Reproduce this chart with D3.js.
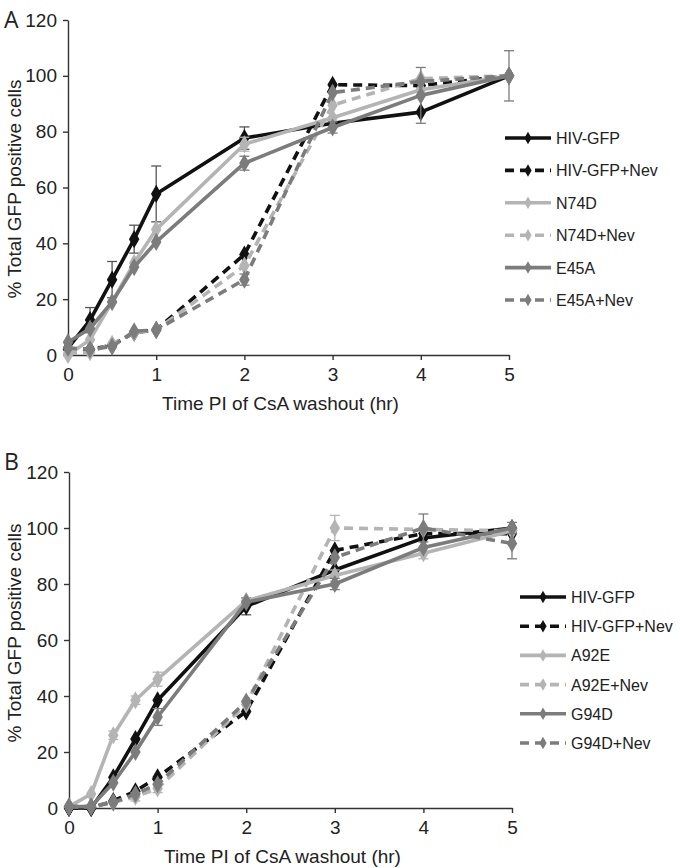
<!DOCTYPE html>
<html><head><meta charset="utf-8">
<script src="https://cdn.jsdelivr.net/npm/d3@7"></script>
<style>body{margin:0;background:#fff}svg{display:block}text{font-family:"Liberation Sans",Arial,sans-serif;fill:#222}</style>
</head><body>
<svg id="c" width="680" height="868"></svg>
<script>
const times = [0, 0.25, 0.5, 0.75, 1, 2, 3, 4, 5];
const xTicks = [0, 1, 2, 3, 4, 5];
const yTicks = [0, 20, 40, 60, 80, 100, 120];
const xTitle = "Time PI of CsA washout (hr)";
const yTitle = "% Total GFP positive cells";

// Panel A
const namesA = ["HIV-GFP", "HIV-GFP+Nev", "N74D", "N74D+Nev", "E45A", "E45A+Nev"];
const hivA    = [2.5, 12.5, 27, 41.5, 57.7, 77.7, 83, 87, 100];
const hivNevA = [2, 2, 3.5, 8, 9, 36, 96.8, 96.5, 100];
const n74d    = [0, 5.5, 19, 33, 45, 75.5, 85, 95, 100];
const n74dNev = [0.5, 1, 4, 8, 9, 32, 89.5, 99, 100];
const e45a    = [4.6, 9.5, 19, 31.5, 40.5, 68.7, 81.5, 93, 100];
const e45aNev = [2.5, 2, 3, 8.5, 9, 27, 94, 98, 100];
const errHivA    = [0, 4.5, 6.5, 5, 10, 4, 0, 0, 0];
const errHivNevA = [0, 0, 0, 0, 0, 0, 0, 0, 0];
const errN74d    = [0, 0, 0, 0, 0, 2.5, 0, 0, 0];
const errN74dNev = [0, 0, 0, 0, 0, 0, 0, 0, 0];
const errE45a    = [0, 0, 0, 0, 0, 2.5, 2, 10, 9];
const errE45aNev = [0, 0, 0, 0, 0, 2, 0, 0, 0];

// Panel B
const namesB = ["HIV-GFP", "HIV-GFP+Nev", "A92E", "A92E+Nev", "G94D", "G94D+Nev"];
const hivB    = [0, 0, 11, 24.6, 38.5, 72, 85, 96.4, 100];
const hivNevB = [0, 0, 2.5, 6, 11, 34.5, 92, 98, 98];
const a92e    = [0.5, 5, 26, 38.5, 46, 74, 83, 91, 99];
const a92eNev = [0.5, 0.5, 2, 4, 7, 37, 100, 99.5, 99];
const g94d    = [0.5, 0.5, 9, 20, 32.5, 73.5, 80, 93, 100];
const g94dNev = [0.5, 0.5, 2, 5, 8.5, 38, 89.5, 100, 94.5];
const errHivB    = [0, 0, 0, 0, 0, 3, 0, 0, 0];
const errHivNevB = [0, 0, 0, 0, 0, 0, 0, 0, 0];
const errA92e    = [0, 0, 1.5, 1.5, 2.5, 0, 2, 2, 0];
const errA92eNev = [0, 0, 0, 1.5, 1.5, 0, 4.5, 0, 0];
const errG94d    = [0, 0, 0, 0, 3, 0, 2, 0, 2];
const errG94dNev = [0, 0, 0, 0, 0, 0, 0, 5, 5.5];

const colors = ["#111111", "#111111", "#b4b4b4", "#b4b4b4", "#7c7c7c", "#7c7c7c"];
const dashed = [false, true, false, true, false, true];

const svg = d3.select("#c");

function panel(cfg) {
  const g = svg.append("g");
  const x = d3.scaleLinear().domain([0, 5]).range([cfg.x0, cfg.x1]);
  const y = d3.scaleLinear().domain([0, 120]).range([cfg.y0, cfg.y1]);

  // axes
  const ya = d3.axisLeft(y).tickValues(yTicks).tickFormat(d3.format("d")).tickSize(5).tickSizeOuter(0).tickPadding(6);
  const gy = g.append("g").attr("transform", `translate(${cfg.x0},0)`).call(ya);
  const xa = d3.axisBottom(x).tickValues(xTicks).tickFormat(d3.format("d")).tickSize(5).tickSizeOuter(0).tickPadding(8);
  const gx = g.append("g").attr("transform", `translate(0,${cfg.y0})`).call(xa);
  [gx, gy].forEach(a => {
    a.select(".domain").attr("stroke", "#333").attr("stroke-width", 1.4);
    a.selectAll(".tick line").attr("stroke", "#333").attr("stroke-width", 1.4);
    a.selectAll(".tick text").style("font-size", "19px").attr("fill", "#222");
  });

  g.append("text").attr("x", (cfg.x0 + cfg.x1) / 2 - 8).attr("y", cfg.y0 + 55)
    .attr("text-anchor", "middle").style("font-size", "19px").text(xTitle);
  g.append("text").attr("transform", `translate(21,${cfg.ytc}) rotate(-90)`)
    .attr("text-anchor", "middle").style("font-size", "19px").text(yTitle);
  g.append("text").attr("x", 4).attr("y", cfg.labelY).style("font-size", "23px")
    .style("font-family", "'Open Sans', 'DejaVu Sans', sans-serif").attr("fill", "#222").text(cfg.label);

  const line = d3.line().x(d => x(d.t)).y(d => y(d.v));
  const diamond = d3.symbol().type(d3.symbolDiamond).size(95);

  cfg.series.forEach((vals, i) => {
    const pts = vals.map((v, j) => ({ t: times[j], v: v, e: cfg.errs[i][j] }));
    const sg = g.append("g");
    const ec = colors[i] === "#111111" ? "#555" : colors[i];
    pts.filter(p => p.e > 0).forEach(p => {
      const cx = x(p.t), top = y(p.v + p.e), bot = y(p.v - p.e);
      sg.append("line").attr("x1", cx).attr("x2", cx).attr("y1", top).attr("y2", bot)
        .attr("stroke", ec).attr("stroke-width", 1.3);
      [top, bot].forEach(yy => sg.append("line").attr("x1", cx - 5).attr("x2", cx + 5)
        .attr("y1", yy).attr("y2", yy).attr("stroke", ec).attr("stroke-width", 1.3));
    });
    sg.append("path").datum(pts).attr("d", line).attr("fill", "none")
      .attr("stroke", colors[i]).attr("stroke-width", 3.6)
      .attr("stroke-dasharray", dashed[i] ? "9,6" : null).attr("stroke-linejoin", "round");
    sg.selectAll("path.m").data(pts).enter().append("path").attr("class", "m")
      .attr("d", diamond).attr("transform", d => `translate(${x(d.t)},${y(d.v)})`)
      .attr("fill", colors[i]);
  });

  // legend
  const lg = g.append("g");
  cfg.names.forEach((n, i) => {
    const yy = cfg.legY + i * cfg.legDy;
    lg.append("line").attr("x1", cfg.legX).attr("x2", cfg.legX + 46).attr("y1", yy).attr("y2", yy)
      .attr("stroke", colors[i]).attr("stroke-width", 3.6)
      .attr("stroke-dasharray", dashed[i] ? "9,6" : null);
    lg.append("path").attr("d", d3.symbol().type(d3.symbolDiamond).size(45))
      .attr("transform", `translate(${cfg.legX + 23},${yy})`).attr("fill", colors[i]);
    lg.append("text").attr("x", cfg.legX + 51).attr("y", yy + 6).style("font-size", "16px").text(n);
  });
}

panel({ x0: 68, x1: 509, y0: 355, y1: 20, ytc: 189, label: "A", labelY: 28, 
  series: [hivA, hivNevA, n74d, n74dNev, e45a, e45aNev],
  errs: [errHivA, errHivNevA, errN74d, errN74dNev, errE45a, errE45aNev],
  names: namesA, legX: 505, legY: 138, legDy: 32.4 });

panel({ x0: 69, x1: 512, y0: 808, y1: 472, ytc: 633, label: "B", labelY: 470,
  series: [hivB, hivNevB, a92e, a92eNev, g94d, g94dNev],
  errs: [errHivB, errHivNevB, errA92e, errA92eNev, errG94d, errG94dNev],
  names: namesB, legX: 520, legY: 597, legDy: 29.2 });
</script>
</body></html>
